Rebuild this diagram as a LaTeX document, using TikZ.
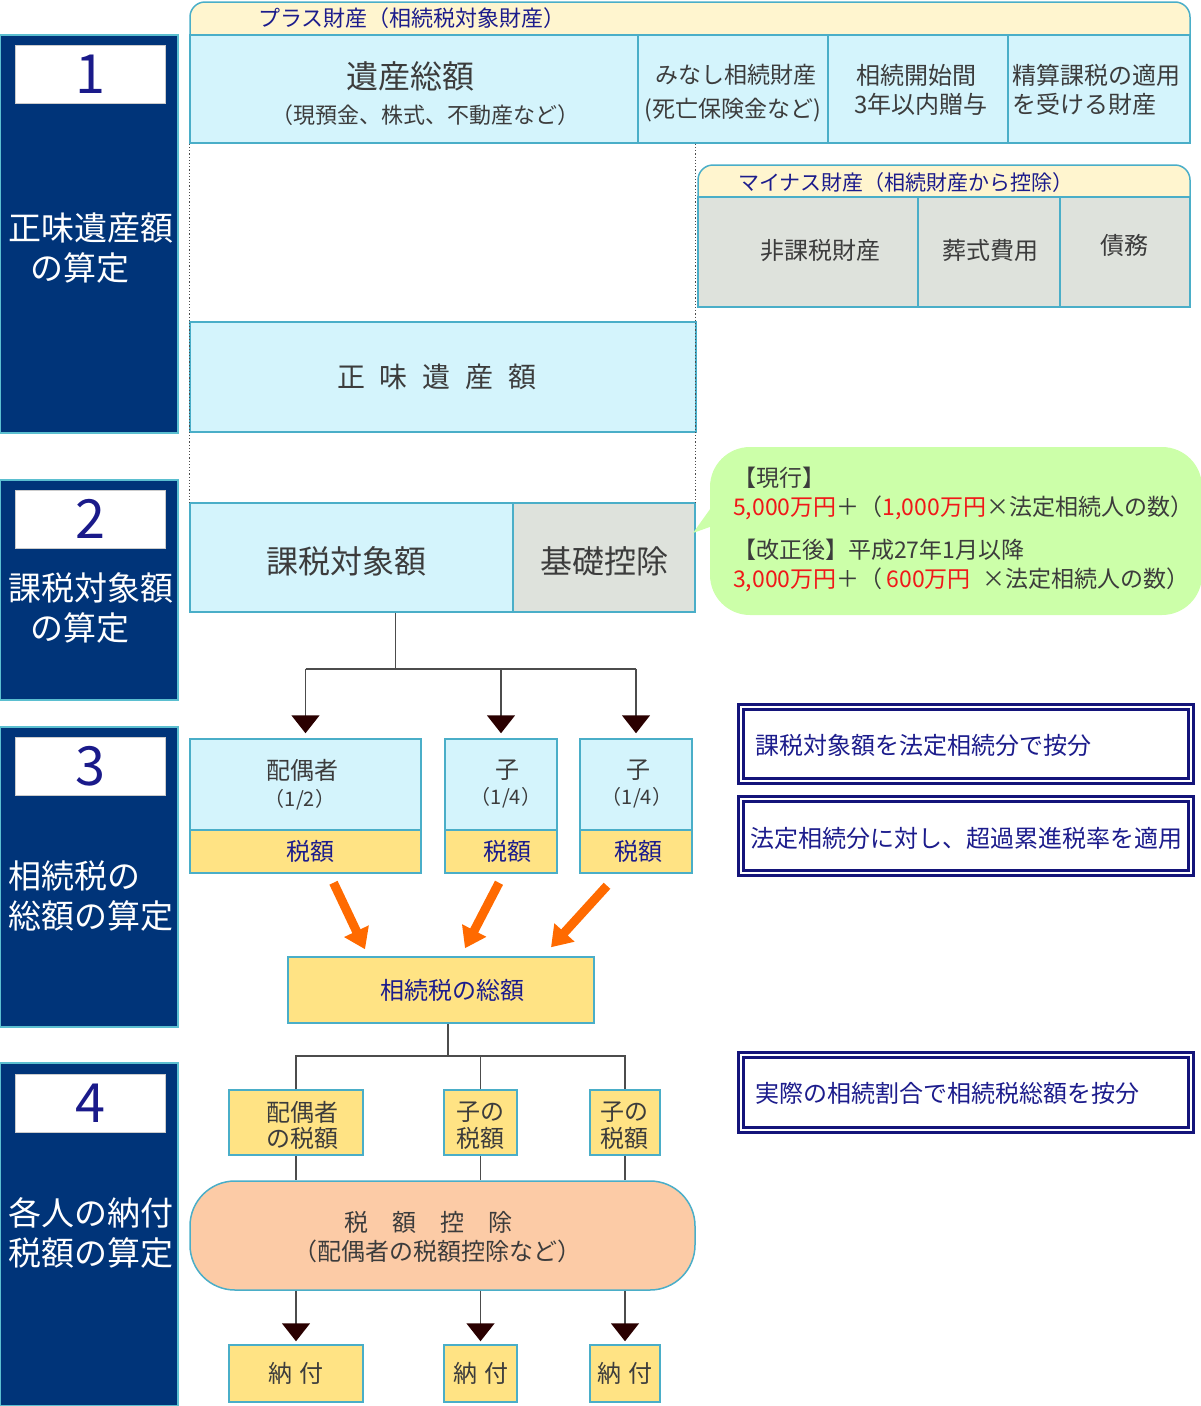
\documentclass[tikz,border=0pt]{standalone}
\usepackage{fontspec}
\setmainfont{Noto Sans CJK JP}
\usetikzlibrary{arrows.meta,calc}
\definecolor{sidenavy}{HTML}{003479}
\definecolor{sideedge}{HTML}{5BBFD0}
\definecolor{numnavy}{HTML}{1A1A8A}
\definecolor{cyanfill}{HTML}{D4F4FC}
\definecolor{tealedge}{HTML}{4AAEC8}
\definecolor{grayfill}{HTML}{DEE2DC}
\definecolor{creamfill}{HTML}{FFF5CF}
\definecolor{yellowfill}{HTML}{FFE384}
\definecolor{peachfill}{HTML}{FCCBA6}
\definecolor{greenfill}{HTML}{CCFFA9}
\definecolor{textgray}{HTML}{3C3C3C}
\definecolor{labnavy}{HTML}{1C1C8C}
\definecolor{amtred}{HTML}{F01818}
\definecolor{arrorange}{HTML}{FF6A00}
\definecolor{tipdark}{HTML}{2A0000}
\definecolor{boxnavy}{HTML}{14147A}
\newcommand{\jfs}[1]{\fontsize{#1}{#1}\selectfont}
\begin{document}
\begin{tikzpicture}[x=1pt,y=-1pt,
  sidebar/.style={fill=sidenavy, draw=sideedge, line width=1.2pt, minimum width=178pt, inner sep=0pt},
  numbox/.style={fill=white, draw=black!20, line width=0.8pt, minimum width=150pt, minimum height=58pt, inner sep=0pt, text=numnavy, font=\jfs{54}},
  sidetext/.style={text=white, font=\jfs{33}, inner sep=0pt, anchor=west},
  cbox/.style={fill=cyanfill, draw=tealedge, line width=1.5pt, inner sep=0pt},
  gbox/.style={fill=grayfill, draw=tealedge, line width=1.5pt, inner sep=0pt},
  ybox/.style={fill=yellowfill, draw=tealedge, line width=1.5pt, inner sep=0pt},
  tab/.style={fill=creamfill, draw=tealedge, line width=1.5pt},
  navbox/.style={draw=boxnavy, line width=3.5pt, double=white, double distance=1.2pt, fill=white, inner sep=0pt, minimum width=450pt},
  lab/.style={inner sep=0pt, text=textgray},
  nlab/.style={inner sep=0pt, text=labnavy},
  tree/.style={draw=black!70, line width=1.6pt},
  darr/.style={tree, -{Triangle[length=18pt,width=28pt,color=tipdark]}},
  oarr/.style={draw=arrorange, line width=9pt, -{Triangle[length=20pt,width=26pt]}}
]
\useasboundingbox (0,0) rectangle (1200,1406);

% ---------------- sidebars
\node[sidebar, minimum height=398pt] (side1) at (89,234) {};
\node[numbox] (num1) at (90,74) {1};
\node[sidetext] (s1a) at (8,228) {正味遺産額};
\node[sidetext] (s1b) at (30,268) {の算定};

\node[sidebar, minimum height=220pt] (side2) at (89,590) {};
\node[numbox] (num2) at (90,519) {2};
\node[sidetext] (s2a) at (8,588) {課税対象額};
\node[sidetext] (s2b) at (30,628) {の算定};

\node[sidebar, minimum height=300pt] (side3) at (89,877) {};
\node[numbox] (num3) at (90,766) {3};
\node[sidetext] (s3a) at (8,876) {相続税の};
\node[sidetext] (s3b) at (8,916) {総額の算定};

\node[sidebar, minimum height=343pt] (side4) at (89,1234.5) {};
\node[numbox] (num4) at (90,1103) {4};
\node[sidetext] (s4a) at (8,1213) {各人の納付};
\node[sidetext] (s4b) at (8,1253) {税額の算定};

% ---------------- plus property
\filldraw[tab] (190,36) [rounded corners=15pt] -- (190,2) -- (1190,2) -- (1190,36);
\node[nlab, anchor=west, font=\jfs{22}] (plustab) at (258,18) {プラス財産（相続税対象財産）};

\node[cbox, minimum width=448pt, minimum height=108pt] (isan) at (414,89) {};
\node[lab, font=\jfs{32}] (isan1) at (410,76) {遺産総額};
\node[lab, font=\jfs{22}] (isan2) at (425,115) {（現預金、株式、不動産など）};

\node[cbox, minimum width=190pt, minimum height=108pt] (minashi) at (733,89) {};
\node[lab, font=\jfs{23}] (minashi1) at (736,75) {みなし相続財産};
\node[lab, font=\jfs{23}] (minashi2) at (733,110) {(死亡保険金など)};

\node[cbox, minimum width=180pt, minimum height=108pt] (kaishi) at (918,89) {};
\node[lab, font=\jfs{24}] (kaishi1) at (916,75) {相続開始間};
\node[lab, font=\jfs{24}] (kaishi2) at (921,104) {3年以内贈与};

\node[cbox, minimum width=182pt, minimum height=108pt] (seisan) at (1099,89) {};
\node[lab, anchor=west, font=\jfs{24}] (seisan1) at (1012,75) {精算課税の適用};
\node[lab, anchor=west, font=\jfs{24}] (seisan2) at (1012,104) {を受ける財産};

% ---------------- minus property
\filldraw[tab] (698,198) [rounded corners=15pt] -- (698,165) -- (1190,165) -- (1190,198);
\node[nlab, anchor=west, font=\jfs{21}] (minustab) at (738,183) {マイナス財産（相続財産から控除）};

\node[gbox, minimum width=220pt, minimum height=110pt] (hikazei) at (808,252) {};
\node[lab, font=\jfs{24}] (hikazei1) at (820,250) {非課税財産};
\node[gbox, minimum width=142pt, minimum height=110pt] (soshiki) at (989,252) {};
\node[lab, font=\jfs{24}] (soshiki1) at (990,250) {葬式費用};
\node[gbox, minimum width=130pt, minimum height=110pt] (saimu) at (1125,252) {};
\node[lab, font=\jfs{24}] (saimu1) at (1124,245) {債務};

% ---------------- net estate
\node[cbox, minimum width=506pt, minimum height=110pt] (shomi) at (443,377) {};
\node[lab, font=\jfs{28}] (shomi1) at (437,377) {正\hspace{15pt}味\hspace{15pt}遺\hspace{15pt}産\hspace{15pt}額};

% ---------------- taxable amount
\node[cbox, minimum width=323pt, minimum height=109pt] (kazei) at (351.5,557.5) {};
\node[lab, font=\jfs{32}] (kazei1) at (346,561) {課税対象額};
\node[gbox, minimum width=182pt, minimum height=109pt] (kiso) at (604,557.5) {};
\node[lab, font=\jfs{32}] (kiso1) at (604,561) {基礎控除};

% dotted guide lines
\draw[dotted, line width=1.2pt, black!70] (isan.south west) -- (kazei.north west);
\draw[dotted, line width=1.2pt, black!70] (kiso.north east |- minashi.south) -- (kiso.north east);

% ---------------- callout
\fill[greenfill] (693,533) -- (718,498) -- (718,524) -- cycle;
\node[fill=greenfill, rounded corners=40pt, minimum width=492pt, minimum height=168pt, inner sep=0pt] (note) at (956,531) {};
\node[lab, anchor=west, font=\jfs{23}] (note1) at (733,478) {【現行】};
\node[lab, anchor=west, font=\jfs{23}] (note2) at (733,508) {{\color{amtred}5,000万円}＋（{\color{amtred}1,000万円}×法定相続人の数）};
\node[lab, anchor=west, font=\jfs{23}] (note3) at (733,550) {【改正後】平成27年1月以降};
\node[lab, anchor=west, font=\jfs{23}] (note4) at (733,580) {{\color{amtred}3,000万円}＋（\hspace{4pt}{\color{amtred}600万円}\hspace{12pt}×法定相続人の数）};

% ---------------- step 3 boxes
\node[cbox, minimum width=231pt, minimum height=91pt] (hai) at (305.5,784.5) {};
\node[ybox, minimum width=231pt, minimum height=43pt] (haizei) at (305.5,851.5) {};
\node[cbox, minimum width=112pt, minimum height=91pt] (ko1) at (501,784.5) {};
\node[ybox, minimum width=112pt, minimum height=43pt] (ko1zei) at (501,851.5) {};
\node[cbox, minimum width=112pt, minimum height=91pt] (ko2) at (636,784.5) {};
\node[ybox, minimum width=112pt, minimum height=43pt] (ko2zei) at (636,851.5) {};
\node[lab, font=\jfs{24}] (hai1) at (302,770) {配偶者};
\node[lab, font=\jfs{20}] (hai2) at (300,800) {（1/2）};
\node[lab, font=\jfs{24}] (ko1a) at (507,770) {子};
\node[lab, font=\jfs{20}] (ko1b) at (506,798) {（1/4）};
\node[lab, font=\jfs{24}] (ko2a) at (638,770) {子};
\node[lab, font=\jfs{20}] (ko2b) at (637,798) {（1/4）};
\node[nlab, font=\jfs{24}] (haizei1) at (310,851) {税額};
\node[nlab, font=\jfs{24}] (ko1zei1) at (507,851) {税額};
\node[nlab, font=\jfs{24}] (ko2zei1) at (638,851) {税額};

% tree from taxable amount
\coordinate (branch1) at ($(kazei.south)+(44,56)$);
\draw[tree] ($(kazei.south)+(44,0)$) -- (branch1);
\draw[tree] (hai.north |- branch1) -- (ko2.north |- branch1);
\draw[darr] (hai.north |- branch1) -- ($(hai.north)+(0,-5)$);
\draw[darr] (ko1.north |- branch1) -- ($(ko1.north)+(0,-5)$);
\draw[darr] (ko2.north |- branch1) -- ($(ko2.north)+(0,-5)$);

% ---------------- total tax
\node[ybox, minimum width=306pt, minimum height=66pt] (total) at (441,990) {};
\node[nlab, font=\jfs{24}] (total1) at (452,990) {相続税の総額};

\draw[oarr] ($(haizei.south)+(28,9)$) -- ($(total.north)+(-76,-7)$);
\draw[oarr] ($(ko1zei.south)+(-2,9)$) -- ($(total.north)+(24,-8)$);
\draw[oarr] ($(ko2zei.south)+(-29,12)$) -- ($(total.north)+(110,-9)$);

% ---------------- step 4
\coordinate (branch2) at ($(total.south)+(7,32)$);
\draw[tree] ($(total.south)+(7,0)$) -- (branch2);

\node[ybox, minimum width=134pt, minimum height=65pt] (hz1) at (296,1122.5) {};
\node[lab, font=\jfs{24}] (hz1a) at (302,1112) {配偶者};
\node[lab, font=\jfs{24}] (hz1b) at (302,1138) {の税額};
\node[ybox, minimum width=73pt, minimum height=65pt] (hz2) at (480.5,1122.5) {};
\node[lab, font=\jfs{24}] (hz2a) at (480,1112) {子の};
\node[lab, font=\jfs{24}] (hz2b) at (480,1138) {税額};
\node[ybox, minimum width=70pt, minimum height=65pt] (hz3) at (625,1122.5) {};
\node[lab, font=\jfs{24}] (hz3a) at (624,1112) {子の};
\node[lab, font=\jfs{24}] (hz3b) at (624,1138) {税額};

\draw[tree] (hz1.north) -- (hz1.north |- branch2) -- (hz3.north |- branch2) -- (hz3.north);
\draw[tree] (hz2.north) -- (hz2.north |- branch2);

\node[fill=peachfill, draw=tealedge, line width=1.5pt, rounded corners=45pt, minimum width=505pt, minimum height=109pt, inner sep=0pt] (kojo) at (442.5,1235.5) {};
\node[lab, font=\jfs{24}] (kojo1) at (428,1222) {税　額　控　除};
\node[lab, font=\jfs{24}] (kojo2) at (437,1251) {（配偶者の税額控除など）};

\draw[tree] (hz1.south) -- (hz1.south |- kojo.north);
\draw[tree] (hz2.south) -- (hz2.south |- kojo.north);
\draw[tree] (hz3.south) -- (hz3.south |- kojo.north);

\node[ybox, minimum width=134pt, minimum height=57pt] (nofu1) at (296,1373.5) {};
\node[lab, font=\jfs{24}] (nofu1t) at (296,1373) {納\hspace{8pt}付};
\node[ybox, minimum width=73pt, minimum height=57pt] (nofu2) at (480.5,1373.5) {};
\node[lab, font=\jfs{24}] (nofu2t) at (481,1373) {納\hspace{8pt}付};
\node[ybox, minimum width=70pt, minimum height=57pt] (nofu3) at (625,1373.5) {};
\node[lab, font=\jfs{24}] (nofu3t) at (625,1373) {納\hspace{8pt}付};

\draw[darr] (kojo.south -| nofu1.north) -- ($(nofu1.north)+(0,-3)$);
\draw[darr] (kojo.south -| nofu2.north) -- ($(nofu2.north)+(0,-3)$);
\draw[darr] (kojo.south -| nofu3.north) -- ($(nofu3.north)+(0,-3)$);

% ---------------- right-hand notes
\node[navbox, minimum height=74pt] (nav1) at (966,744) {};
\node[nlab, anchor=west, font=\jfs{24}] (nav1t) at (755,745) {課税対象額を法定相続分で按分};
\node[navbox, minimum height=74pt] (nav2) at (966,836) {};
\node[nlab, anchor=west, font=\jfs{24}] (nav2t) at (750,838) {法定相続分に対し、超過累進税率を適用};
\node[navbox, minimum height=75pt] (nav3) at (966,1092.5) {};
\node[nlab, anchor=west, font=\jfs{24}] (nav3t) at (755,1093) {実際の相続割合で相続税総額を按分};
\end{tikzpicture}
\end{document}
